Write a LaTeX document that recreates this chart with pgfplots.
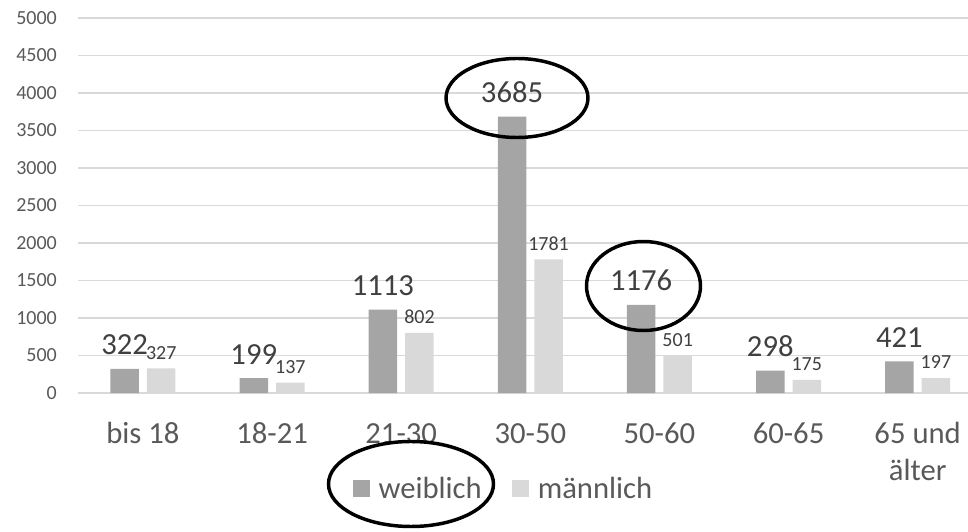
\documentclass[border=0pt]{standalone}
\usepackage{fontspec}
\setmainfont{Carlito}
\usepackage{pgfplots}
\pgfplotsset{compat=1.18}
\definecolor{wcol}{HTML}{A5A5A5}
\definecolor{mcol}{HTML}{D9D9D9}
\definecolor{gridc}{HTML}{D9D9D9}
\definecolor{txt}{HTML}{595959}
\definecolor{lab}{HTML}{404040}
\begin{document}
\begin{tikzpicture}[x=0.75pt,y=0.75pt]
\useasboundingbox (0,0) rectangle (968,532);
\begin{axis}[
  at={(58.8pt,104.25pt)}, anchor=south west,
  scale only axis, width=667.2pt, height=281.25pt,
  xmin=-0.5, xmax=6.39, ymin=0, ymax=5000,
  axis line style={draw=none}, major tick length=0pt,
  ymajorgrids, grid style={gridc, line width=0.9pt},
  ytick={0,500,...,5000},
  xtick={0,1,2,3,4,5,6},
  xticklabels={\strut bis 18,\strut 18-21,\strut 21-30,\strut 30-50,\strut 50-60,\strut 60-65,{\strut 65 und\\\strut älter}},
  /pgf/number format/assume math mode=true,
  /pgf/number format/1000 sep={},
  yticklabel style={anchor=east, xshift=-16pt, inner sep=0pt, font=\fontsize{15pt}{18pt}\selectfont, text=txt},
  xticklabel style={anchor=north, yshift=-18.1pt, inner sep=0pt, align=center, font=\fontsize{23pt}{27.75pt}\selectfont, text=txt},
  legend style={at={(axis description cs:0.4767,-0.2547)}, anchor=center, draw=none, fill=none,
    legend columns=-1, font=\fontsize{23pt}{27pt}\selectfont, text=txt, nodes={inner sep=0pt},
    /tikz/every odd column/.append style={column sep=6.75pt},
    /tikz/every even column/.append style={column sep=22.5pt}},
]
\addplot[ybar, bar width=21.4pt, bar shift=-13.7pt, fill=wcol, draw=none,
  legend image code/.code={\fill[wcol] (0pt,-6.4pt) rectangle (12.75pt,6.4pt);},
  nodes near coords, nodes near coords style={font=\fontsize{23pt}{27pt}\selectfont, text=lab, anchor=base, xshift=-13.7pt, yshift=10.5pt, inner sep=0pt}]
  coordinates {(0,322) (1,199) (2,1113) (3,3685) (4,1176) (5,298) (6,421)};
\addlegendentry{weiblich}
\addplot[ybar, bar width=21.4pt, bar shift=13.7pt, fill=mcol, draw=none,
  legend image code/.code={\fill[mcol] (0pt,-6.4pt) rectangle (12.75pt,6.4pt);},
  nodes near coords, nodes near coords style={font=\fontsize{15pt}{18pt}\selectfont, text=lab, anchor=base, xshift=13.7pt, yshift=7pt, inner sep=0pt}]
  coordinates {(0,327) (1,137) (2,802) (3,1781) (4,501) (5,175) (6,197)};
\addlegendentry{männlich}
\end{axis}
\draw[line width=2.6pt] (517,434) ellipse [x radius=71, y radius=39.5];
\draw[line width=2.6pt] (643.5,246) ellipse [x radius=57, y radius=44.5];
\draw[line width=2.6pt] (411,48) ellipse [x radius=82.5, y radius=42.5];
\end{tikzpicture}
\end{document}
